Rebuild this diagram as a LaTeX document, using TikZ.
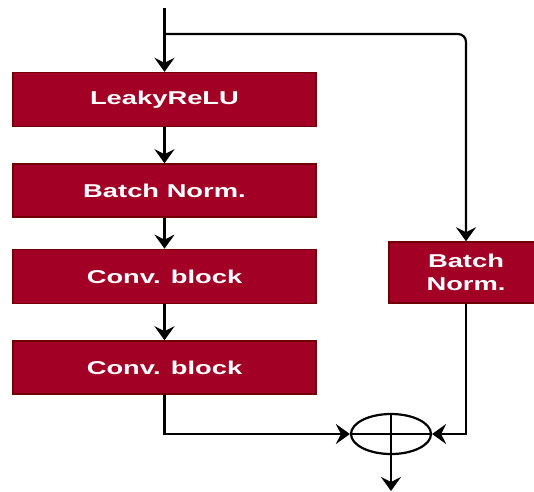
\documentclass[tikz,border=0pt]{standalone}
\usepackage{fontspec}
\setmainfont{Liberation Sans}
\usepackage{graphicx}
\usetikzlibrary{arrows.meta,shapes.geometric}

\definecolor{blockfill}{HTML}{A20025}
\definecolor{blockline}{HTML}{6F0000}

% labels are set slightly widened
\newcommand{\widelabel}[1]{\scalebox{1.47}[1]{#1}}

\tikzset{
  layer/.style={draw=blockline, fill=blockfill, line width=1.5pt,
    text=white, inner sep=0pt, align=center,
    font=\bfseries\fontsize{18.6}{23}\selectfont},
  conn/.style={line width=2.2pt, draw=black},
  flow/.style={conn, -{Stealth[length=14pt,width=20pt,inset=5pt]}},
  summer/.style={ellipse, draw=black, line width=2.2pt,
    minimum width=80pt, minimum height=40pt, inner sep=0pt}
}

\begin{document}
\begin{tikzpicture}[x=1pt,y=-1pt]
\useasboundingbox (0,0) rectangle (534,491);

% main path
\node[layer, minimum width=303pt, minimum height=54pt] (l1) at (164.5,99.6) {\widelabel{LeakyReLU}};
\node[layer, minimum width=303pt, minimum height=53pt] (l2) at (164.5,190.5) {\widelabel{Batch Norm.}};
\node[layer, minimum width=303pt, minimum height=54pt] (l3) at (164.5,276.4) {\widelabel{Conv. block}};
\node[layer, minimum width=303pt, minimum height=53pt] (l4) at (164.5,367.5) {\widelabel{Conv. block}};

% shortcut path
\node[layer, minimum width=154pt, minimum height=61pt] (bn) at (466,272.5) {\widelabel{Batch}\\\widelabel{Norm.}};

% sum junction
\node[summer] (sum) at (391,434) {};
\draw[conn] (sum.north) -- (sum.south);
\draw[conn] (sum.west) -- (sum.east);

\coordinate (in) at (164.5,8);
\coordinate (br) at (164.5,34);
\coordinate (out) at (391,491);

\draw[flow] (in) -- (l1.north);
\draw[flow, rounded corners=8pt] (br) -| (bn.north);
\draw[flow] (l1.south) -- (l2.north);
\draw[flow] (l2.south) -- (l3.north);
\draw[flow] (l3.south) -- (l4.north);
\draw[flow] (l4.south) |- (sum.west);
\draw[flow] (bn.south) |- (sum.east);
\draw[flow] (sum.south) -- (out);
\end{tikzpicture}
\end{document}
